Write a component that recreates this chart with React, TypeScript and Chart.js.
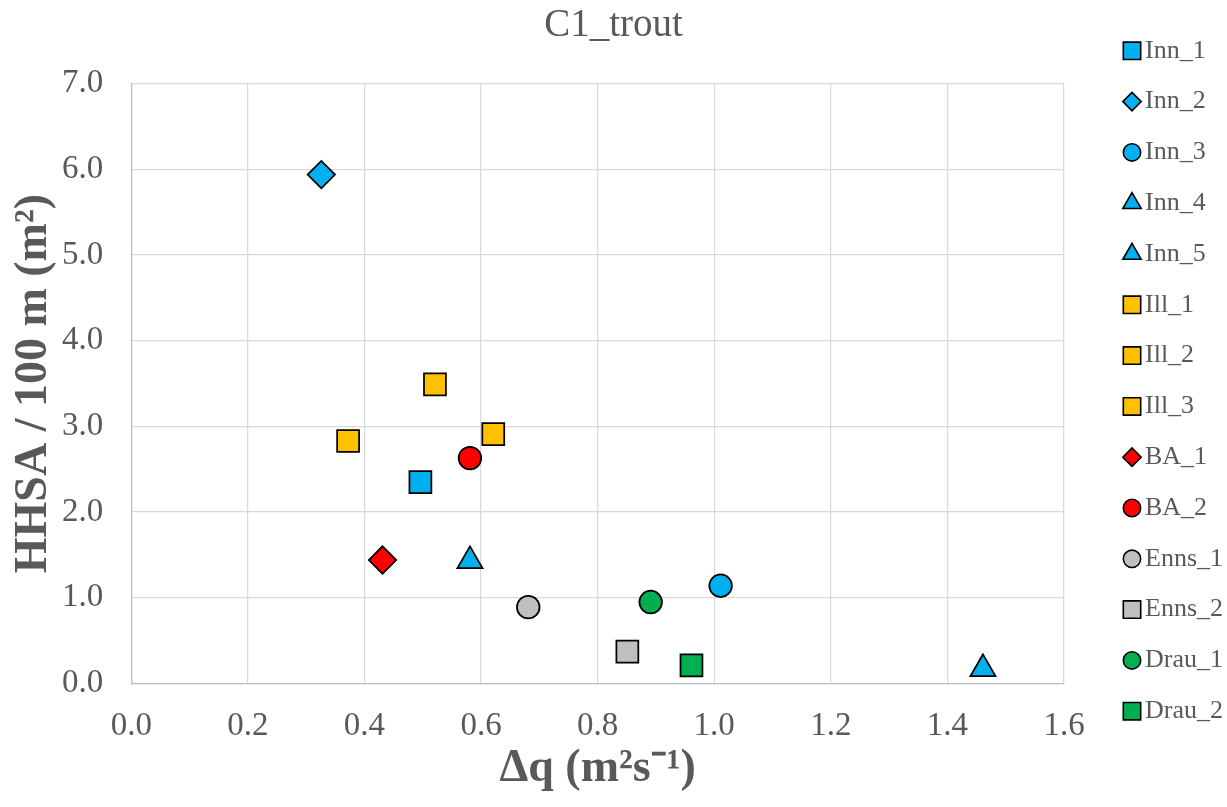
import React, { useEffect, useRef } from 'react';
import { Chart, registerables } from 'chart.js';
import { drawPoint } from 'chart.js/helpers';

Chart.register(...registerables);

// ---- data ----
const chartTitle = 'C1_trout';
const xAxisTitle = 'Δq (m²s⁻¹)';
const yAxisTitle = 'HHSA / 100 m (m²)';

const seriesNames = ['Inn_1', 'Inn_2', 'Inn_3', 'Inn_4', 'Inn_5', 'Ill_1', 'Ill_2', 'Ill_3', 'BA_1', 'BA_2', 'Enns_1', 'Enns_2', 'Drau_1', 'Drau_2'];
const xValues = [0.496, 0.326, 1.011, 0.581, 1.461, 0.372, 0.521, 0.621, 0.431, 0.581, 0.681, 0.851, 0.891, 0.961];
const yValues = [2.35, 5.94, 1.14, 1.43, 0.17, 2.83, 3.49, 2.91, 1.44, 2.63, 0.89, 0.37, 0.95, 0.21];
const markerShapes = ['rect', 'rectRot', 'circle', 'triangle', 'triangle', 'rect', 'rect', 'rect', 'rectRot', 'circle', 'circle', 'rect', 'circle', 'rect'];
const markerColors = ['#00B0F0', '#00B0F0', '#00B0F0', '#00B0F0', '#00B0F0', '#FFC000', '#FFC000', '#FFC000', '#FF0000', '#FF0000', '#BFBFBF', '#BFBFBF', '#00B050', '#00B050'];

const xMin = 0, xMax = 1.6, xStep = 0.2;
const yMin = 0, yMax = 7, yStep = 1;

// ---- styles ----
const FONT = '"Liberation Serif", "Times New Roman", serif';
const TEXT = '#595959';
const plotRadius: Record<string, number> = { rect: 15.5, rectRot: 13.7, circle: 11.3, triangle: 14.5 };
const legendRadius: Record<string, number> = { rect: 12.3, rectRot: 9.2, circle: 8.7, triangle: 10.6 };

const sideLegend = {
  id: 'sideLegend',
  afterDraw(chart: any) {
    const ctx = chart.ctx;
    const area = chart.chartArea;
    const mx = area.right + 68;
    const tx = area.right + 81;
    const y0 = area.top - 33;
    const step = 50.8;
    chart.data.datasets.forEach((ds: any, i: number) => {
      const y = y0 + i * step;
      ctx.save();
      ctx.fillStyle = ds.backgroundColor;
      ctx.strokeStyle = '#000000';
      ctx.lineWidth = 1.6;
      drawPoint(ctx, { pointStyle: ds.pointStyle, radius: legendRadius[ds.pointStyle], rotation: 0, borderWidth: 1.6 }, mx, y);
      ctx.fillStyle = TEXT;
      ctx.font = `26px ${FONT}`;
      ctx.textAlign = 'left';
      ctx.textBaseline = 'middle';
      ctx.fillText(ds.label, tx, y);
      ctx.restore();
    });
  },
};

export default function App() {
  const ref = useRef<HTMLCanvasElement | null>(null);

  useEffect(() => {
    if (!ref.current) return;
    const datasets = seriesNames.map((name, i) => ({
      label: name,
      data: [{ x: xValues[i], y: yValues[i] }],
      pointStyle: markerShapes[i],
      backgroundColor: markerColors[i],
      borderColor: '#000000',
      borderWidth: 1.75,
      pointRadius: plotRadius[markerShapes[i]],
      pointHoverRadius: plotRadius[markerShapes[i]],
    }));

    const chart = new Chart(ref.current, {
      type: 'scatter',
      data: { datasets },
      plugins: [sideLegend],
      options: {
        responsive: false,
        animation: false,
        events: [],
        layout: { padding: 0 },
        plugins: {
          legend: { display: false },
          tooltip: { enabled: false },
          title: {
            display: true,
            text: chartTitle,
            color: TEXT,
            font: { family: FONT, size: 39, weight: 'normal', lineHeight: 1.2 },
            padding: { top: 2, bottom: 35 },
          },
        },
        scales: {
          x: {
            type: 'linear',
            min: xMin,
            max: xMax,
            ticks: {
              stepSize: xStep,
              color: TEXT,
              padding: 23,
              font: { family: FONT, size: 33 },
              callback: (v: any) => Number(v).toFixed(1),
            },
            grid: { color: '#D9D9D9', lineWidth: 1.25, drawTicks: false },
            border: { color: '#BFBFBF', width: 1.25 },
            title: {
              display: true,
              text: xAxisTitle,
              color: TEXT,
              font: { family: FONT, size: 46, weight: 'bold', lineHeight: 1 },
              padding: { top: -23, bottom: 15 },
            },
          },
          y: {
            type: 'linear',
            min: yMin,
            max: yMax,
            ticks: {
              stepSize: yStep,
              color: TEXT,
              padding: 28,
              font: { family: FONT, size: 33 },
              callback: (v: any) => Number(v).toFixed(1),
            },
            grid: { color: '#D9D9D9', lineWidth: 1.25, drawTicks: false },
            border: { color: '#BFBFBF', width: 1.25 },
            title: {
              display: true,
              text: yAxisTitle,
              color: TEXT,
              font: { family: FONT, size: 46, weight: 'bold', lineHeight: 1 },
              padding: { top: 11, bottom: -23 },
            },
          },
          legendSpace: {
            type: 'linear',
            position: 'right',
            display: true,
            min: yMin,
            max: yMax,
            ticks: { display: false },
            grid: { display: false, drawTicks: false },
            border: { display: false },
            afterFit: (scale: any) => {
              scale.width = 163;
            },
          },
        },
      },
    });
    return () => chart.destroy();
  }, []);

  return (
    <div style={{ position: 'absolute', left: 0, top: 0, width: 1227, height: 807, background: '#ffffff' }}>
      <canvas ref={ref} width={1227} height={807} style={{ display: 'block', width: 1227, height: 807 }} />
    </div>
  );
}
